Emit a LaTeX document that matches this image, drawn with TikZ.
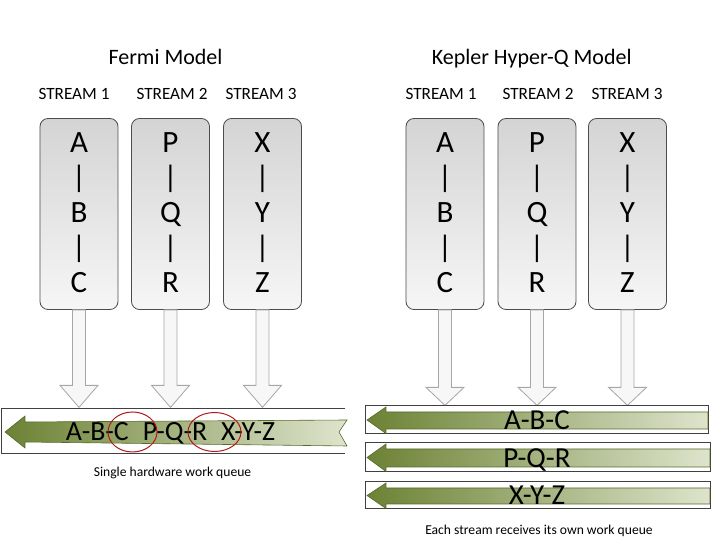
\documentclass[tikz,border=0pt]{standalone}
\usepackage{fontspec}
\setmainfont{Carlito}
\usetikzlibrary{calc}
\usepackage{xcolor}
\definecolor{qdark}{RGB}{108,130,52}
\definecolor{qlight}{RGB}{222,228,204}
\definecolor{boxtop}{RGB}{212,212,212}
\definecolor{boxbot}{RGB}{246,246,246}
\definecolor{ringred}{RGB}{175,25,25}
\tikzset{
  title/.style={anchor=base,font=\fontsize{11}{13}\selectfont},
  streamlabel/.style={anchor=base,font=\fontsize{8.6}{10}\selectfont},
  streambox/.style={draw=black!70,rounded corners=4pt,top color=boxtop,bottom color=boxbot,
    minimum width=39pt,minimum height=95.5pt,inner sep=0pt},
  letter/.style={anchor=base,font=\fontsize{15.5}{17}\selectfont},
  blockarrow/.style={draw=black!35,fill=black!3,line width=0.4pt},
  queueframe/.style={draw=black!75,line width=0.5pt},
  queuearrow/.style={draw=qdark!80!black,left color=qdark,right color=qlight,line width=0.3pt},
  queuetext/.style={anchor=base,font=\fontsize{14.5}{16}\selectfont},
  caption/.style={anchor=base,font=\fontsize{6.8}{8}\selectfont},
  ring/.style={draw=ringred,line width=0.5pt}
}
\begin{document}
\begin{tikzpicture}[x=0.5pt,y=-0.5pt]
    \useasboundingbox (0,0) rectangle (720,540);
    % titles
    \node[title] (fermi) at (165.5,65) {Fermi Model};
    \node[title] (kepler) at (531.7,65) {Kepler Hyper-Q Model};
    \foreach \nm/\x/\t in {fs1/74/1,fs2/172/2,fs3/261/3,ks1/441/1,ks2/538/2,ks3/627/3}{
        \node[streamlabel] (\nm) at (\x,100) {STREAM \t};
    }
    % stream boxes
    \foreach \nm/\x/\a/\b/\c in {f1/79/A/B/C,f2/170.5/P/Q/R,f3/262.5/X/Y/Z,k1/445/A/B/C,k2/537/P/Q/R,k3/627.5/X/Y/Z}{
        \node[streambox] (\nm) at (\x,214) {};
        \foreach \t [count=\i from 0] in {\a,|,\b,|,\c}
            \node[letter] (\nm-\i) at (\x,153+35*\i) {\t};
    }
    % arrows into the queues
    \foreach \nm/\sh/\hd in {f1/75.5/22,f2/75.5/22,f3/75.5/22,k1/77.5/18,k2/77.5/18,k3/77.5/18}{
        \draw[blockarrow] (\nm.south) ++(-6.5,0) -- ++(13,0) -- ++(0,\sh) -- ++(12.5,0) -- ++(-19,\hd) -- ++(-19,-\hd) -- ++(12.5,0) -- cycle;
    }
    % single hardware queue
    \draw[queueframe] (345,409) -- (1,409) -- (1,454) -- (345,454);
    \draw[queuearrow] (5,432) -- (25,416) -- (25,422) -- (347,420) -- (339,432) -- (347,446) -- (25,442) -- (25,448) -- cycle;
    \node[queuetext,font=\fontsize{13.9}{16}\selectfont] (fq) at (170.5,440.5) {A-B-C\hspace{7pt}P-Q-R\hspace{7pt}X-Y-Z};
    \draw[ring] (132.5,432) ellipse [x radius=24.5,y radius=20];
    \draw[ring] (214.5,432) ellipse [x radius=26.5,y radius=19.5];
    \node[caption] (fcap) at (172.5,477) {Single hardware work queue};
    % one queue per stream
    \foreach \nm/\yt/\yb/\xr/\t in {kq1/406/434/709/A-B-C,kq2/443/472/711/P-Q-R,kq3/482/509/711/X-Y-Z}{
        \draw[queueframe] (366,\yt) rectangle (\xr,\yb);
        \draw[queuearrow] (367,{(\yt+\yb)/2}) -- (386,\yt+1) -- (386,\yt+6) -- (\xr-1,\yt+6) -- (\xr-1,\yb-5) -- (386,\yb-5) -- (386,\yb-0.5) -- cycle;
        \node[queuetext] (\nm) at (537,\yb-4.5) {\t};
    }
    \node[caption] (kcap) at (539,535) {Each stream receives its own work queue};
\end{tikzpicture}
\end{document}
